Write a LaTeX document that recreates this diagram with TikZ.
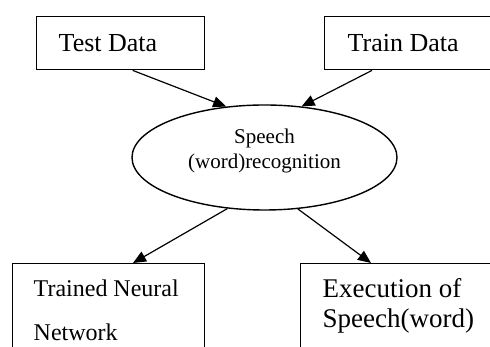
\documentclass[tikz,border=0pt]{standalone}
\usepackage{fontspec}
\setmainfont{Liberation Serif}
\usetikzlibrary{arrows.meta,shapes.geometric,calc}
\begin{document}
\begin{tikzpicture}[x=1pt,y=1pt,
  box/.style={draw,line width=1.4pt,rectangle,align=flush left},
  conn/.style={line width=1.2pt,-{Triangle[length=13pt,width=11pt]}}]
\useasboundingbox (0,0) rectangle (490,347);
\clip (0,0) rectangle (490,347);
% top boxes
\node[box,anchor=north west,minimum width=168pt,minimum height=53pt,
  inner xsep=22pt,text width=124pt,font=\fontsize{26}{30}\selectfont]
  (test) at (36,331) {Test Data};
\node[box,anchor=north west,minimum width=200pt,minimum height=53pt,
  inner xsep=23pt,text width=154pt,font=\fontsize{26}{30}\selectfont]
  (train) at (324,331) {Train Data};
% ellipse
\node[ellipse,draw,line width=1.4pt,minimum width=265pt,minimum height=105pt,
  inner sep=0pt]
  (ell) at (264.5,189.5) {};
\node[align=center,inner sep=0pt,font=\fontsize{21}{25}\selectfont]
  (elltext) at (264.5,196) {Speech\\(word)recognition};
% bottom boxes
\node[box,anchor=north west,minimum width=192pt,inner xsep=21pt,
  inner ysep=16pt,text width=150pt,text depth=80pt,
  font=\fontsize{24}{44}\selectfont]
  (tnn) at (12,84) {Trained Neural\\Network};
\node[box,anchor=north west,minimum width=220pt,inner xsep=22pt,
  inner ysep=15pt,text width=176pt,text depth=80pt,
  font=\fontsize{27}{30}\selectfont]
  (exe) at (300,84) {Execution of\\Speech(word)};
% connectors
\draw[conn] ([xshift=12pt]test.south) -- (ell.127);
\draw[conn] ([xshift=48pt]train.south west) -- (ell.54);
\draw[conn] (ell.234) -- ([xshift=121pt]tnn.north west);
\draw[conn] (ell.303) -- ([xshift=71pt]exe.north west);
\end{tikzpicture}
\end{document}
